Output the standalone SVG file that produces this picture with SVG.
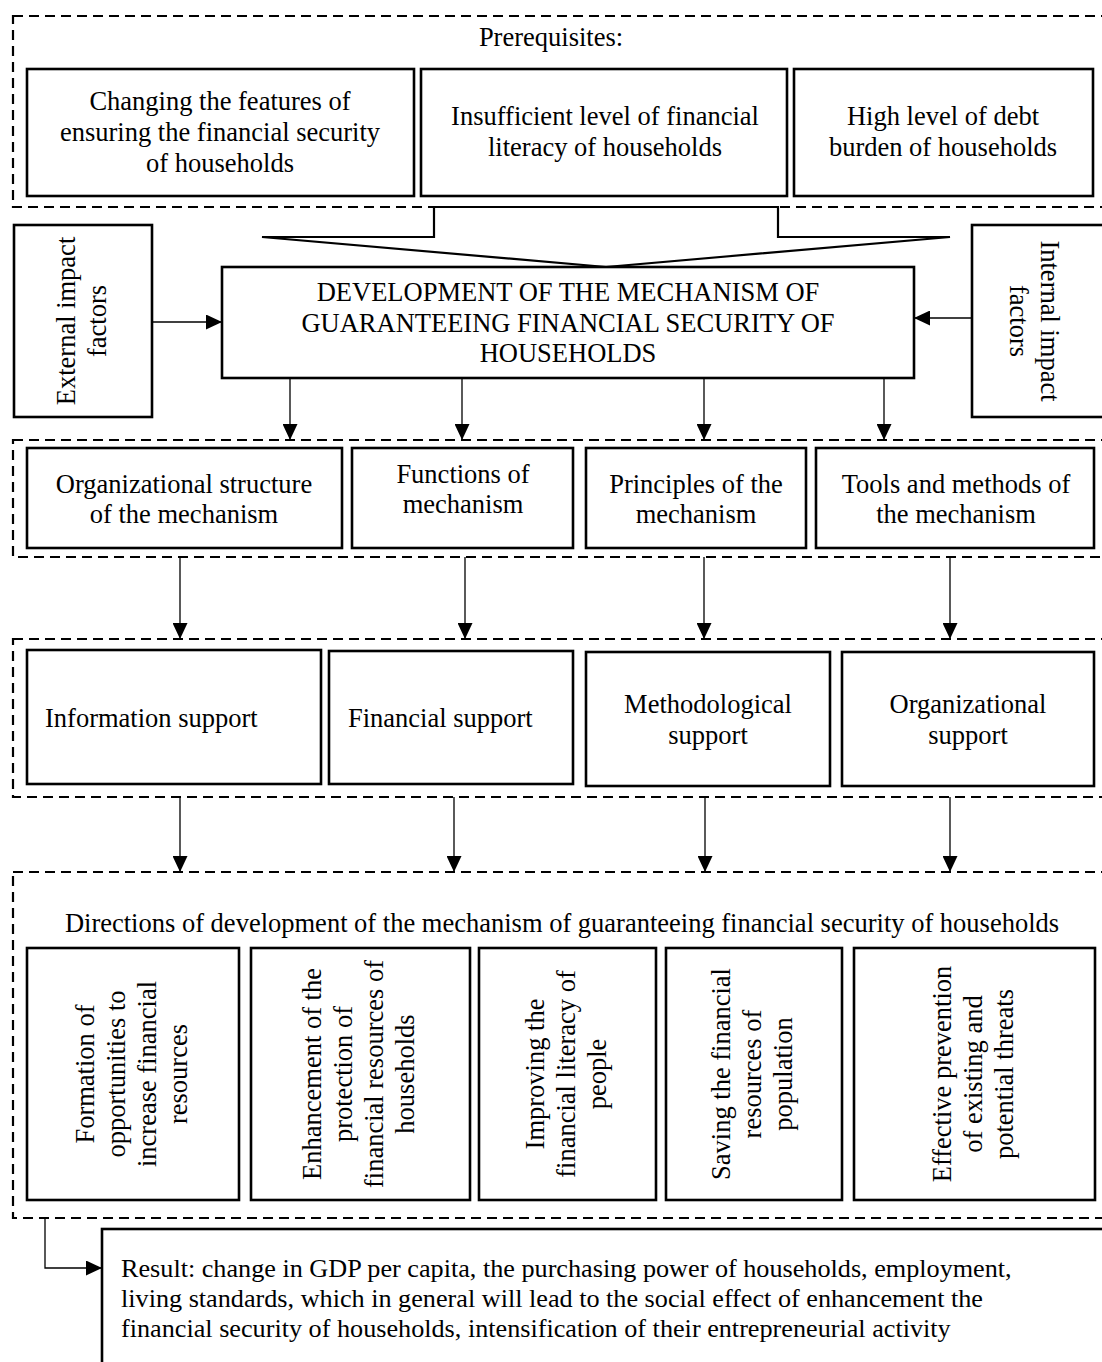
<svg xmlns="http://www.w3.org/2000/svg" width="1102" height="1362" viewBox="0 0 1102 1362">
<style>
text{font-family:"Liberation Serif","Times New Roman",serif;font-size:26.5px;fill:#000}
.c{text-anchor:middle}
.r{font-size:26.2px}
.box{fill:#fff;stroke:#000;stroke-width:2.6}
.grp{fill:none;stroke:#000;stroke-width:2.2;stroke-dasharray:10 6}
.arr{fill:none;stroke:#000;stroke-width:1.3;marker-end:url(#ah)}
.fun{fill:#fff;stroke:#000;stroke-width:2.2;stroke-linejoin:miter}
</style>
<defs>
<marker id="ah" markerUnits="userSpaceOnUse" viewBox="0 0 16 15" markerWidth="16" markerHeight="15" refX="16" refY="7.5" orient="auto"><path d="M0,0L16,7.5L0,15z" fill="#000"/></marker>
</defs>
<rect width="1102" height="1362" fill="#fff"/>

<g id="groups">
<rect class="grp" x="13" y="16" width="1093" height="191"/>
<rect class="grp" x="13" y="440" width="1093" height="117"/>
<rect class="grp" x="13" y="639" width="1093" height="158"/>
<rect class="grp" x="13" y="872" width="1093" height="346"/>
</g>

<g id="prerequisites-label"><text class="c" x="551" y="46">Prerequisites:</text></g>

<g id="pre1"><rect class="box" x="27" y="69" width="387" height="127"/>
<text class="c" x="220" y="110">Changing the features of</text>
<text class="c" x="220" y="141">ensuring the financial security</text>
<text class="c" x="220" y="172">of households</text></g>

<g id="pre2"><rect class="box" x="421" y="69" width="366" height="127"/>
<text class="c" x="605" y="125">Insufficient level of financial</text>
<text class="c" x="605" y="156">literacy of households</text></g>

<g id="pre3"><rect class="box" x="794" y="69" width="299" height="127"/>
<text class="c" x="943" y="125">High level of debt</text>
<text class="c" x="943" y="156">burden of households</text></g>

<g id="funnel"><polygon class="fun" points="434,207 434,237 262,237 606,267 950,237 778,237 778,207"/></g>

<g id="main"><rect class="box" x="222" y="267" width="692" height="111"/>
<text class="c" x="568" y="301">DEVELOPMENT OF THE MECHANISM OF</text>
<text class="c" x="568" y="332">GUARANTEEING FINANCIAL SECURITY OF</text>
<text class="c" x="568" y="362">HOUSEHOLDS</text></g>

<g id="external"><rect class="box" x="14" y="225" width="138" height="192"/>
<text class="c" transform="translate(83,321) rotate(-90)"><tspan x="0" y="-8.5">External impact</tspan><tspan x="0" y="22.5">factors</tspan></text></g>

<g id="internal"><rect class="box" x="972" y="225" width="140" height="192"/>
<text class="c" transform="translate(1032,321) rotate(90)"><tspan x="0" y="-8.5">Internal impact</tspan><tspan x="0" y="22.5">factors</tspan></text></g>

<g id="org-structure"><rect class="box" x="27" y="448" width="315" height="100"/>
<text class="c" x="184" y="493">Organizational structure</text>
<text class="c" x="184" y="523">of the mechanism</text></g>

<g id="functions"><rect class="box" x="352" y="448" width="221" height="100"/>
<text class="c" x="463" y="483">Functions of</text>
<text class="c" x="463" y="513">mechanism</text></g>

<g id="principles"><rect class="box" x="586" y="448" width="220" height="100"/>
<text class="c" x="696" y="493">Principles of the</text>
<text class="c" x="696" y="523">mechanism</text></g>

<g id="tools"><rect class="box" x="816" y="448" width="278" height="100"/>
<text class="c" x="956" y="493">Tools and methods of</text>
<text class="c" x="956" y="523">the mechanism</text></g>

<g id="info-support"><rect class="box" x="27" y="650" width="294" height="134"/>
<text x="45" y="727">Information support</text></g>

<g id="fin-support"><rect class="box" x="329" y="651" width="244" height="133"/>
<text x="348" y="727">Financial support</text></g>

<g id="meth-support"><rect class="box" x="586" y="652" width="244" height="134"/>
<text class="c" x="708" y="713">Methodological</text>
<text class="c" x="708" y="744">support</text></g>

<g id="org-support"><rect class="box" x="842" y="652" width="252" height="134"/>
<text class="c" x="968" y="713">Organizational</text>
<text class="c" x="968" y="744">support</text></g>

<g id="directions-label"><text class="c" x="562" y="932">Directions of development of the mechanism of guaranteeing financial security of households</text></g>

<g id="dir1"><rect class="box" x="27" y="948" width="212" height="252"/>
<text class="c" transform="translate(133,1074) rotate(-90)"><tspan x="0" y="-39.5">Formation of</tspan><tspan x="0" y="-8.5">opportunities to</tspan><tspan x="0" y="22.5">increase financial</tspan><tspan x="0" y="53.5">resources</tspan></text></g>

<g id="dir2"><rect class="box" x="251" y="948" width="219" height="252"/>
<text class="c" transform="translate(360.5,1074) rotate(-90)"><tspan x="0" y="-39.5">Enhancement of the</tspan><tspan x="0" y="-8.5">protection of</tspan><tspan x="0" y="22.5">financial resources of</tspan><tspan x="0" y="53.5">households</tspan></text></g>

<g id="dir3"><rect class="box" x="479" y="948" width="177" height="252"/>
<text class="c" transform="translate(567.5,1074) rotate(-90)"><tspan x="0" y="-24">Improving the</tspan><tspan x="0" y="7">financial literacy of</tspan><tspan x="0" y="38">people</tspan></text></g>

<g id="dir4"><rect class="box" x="666" y="948" width="176" height="252"/>
<text class="c" transform="translate(754,1074) rotate(-90)"><tspan x="0" y="-24">Saving the financial</tspan><tspan x="0" y="7">resources of</tspan><tspan x="0" y="38">population</tspan></text></g>

<g id="dir5"><rect class="box" x="854" y="948" width="241" height="252"/>
<text class="c" transform="translate(974.5,1074) rotate(-90)"><tspan x="0" y="-24">Effective prevention</tspan><tspan x="0" y="7">of existing and</tspan><tspan x="0" y="38">potential threats</tspan></text></g>

<g id="result"><rect class="box" x="102" y="1229" width="1010" height="200"/>
<text class="r" x="121" y="1277">Result: change in GDP per capita, the purchasing power of households, employment,</text>
<text class="r" x="121" y="1307">living standards, which in general will lead to the social effect of enhancement the</text>
<text class="r" x="121" y="1337">financial security of households, intensification of their entrepreneurial activity</text></g>

<g id="connectors">
<path class="arr" d="M152,322H222"/>
<path class="arr" d="M972,318H914"/>
<path class="arr" d="M290,378V440"/>
<path class="arr" d="M462,378V440"/>
<path class="arr" d="M704,378V440"/>
<path class="arr" d="M884,378V440"/>
<path class="arr" d="M180,557V639"/>
<path class="arr" d="M465,557V639"/>
<path class="arr" d="M704,557V639"/>
<path class="arr" d="M950,557V639"/>
<path class="arr" d="M180,797V872"/>
<path class="arr" d="M454,797V872"/>
<path class="arr" d="M705,797V872"/>
<path class="arr" d="M950,797V872"/>
<path class="arr" d="M45,1219V1268H102"/>
</g>
</svg>
